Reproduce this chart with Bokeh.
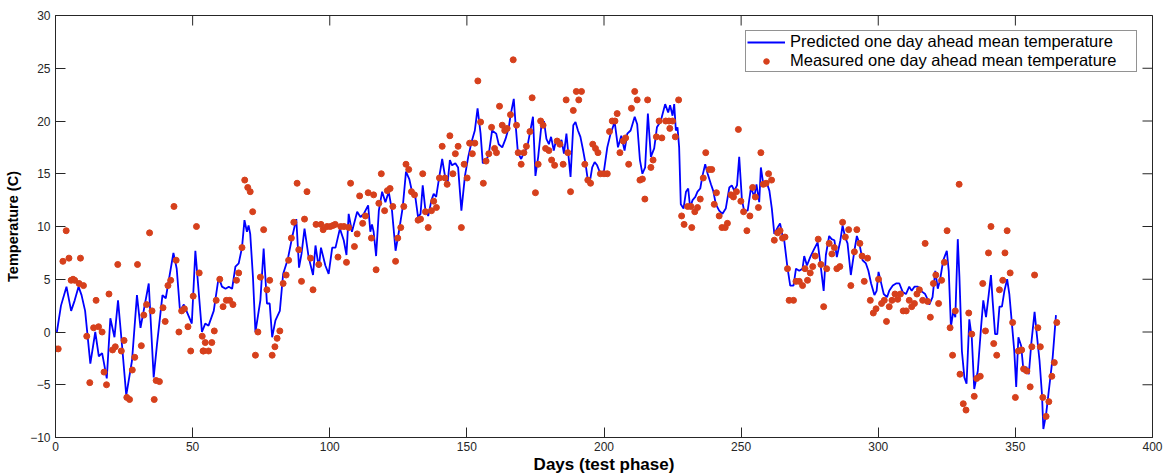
import math
from bokeh.plotting import figure
from bokeh.models import Range1d, FixedTicker, Legend, LegendItem
from bokeh.embed import file_html
from bokeh.resources import INLINE

# Predicted one day ahead mean temperature (line vertices: day, value)
pred_days = [0.5, 2, 4, 5.7, 7, 8.4, 9.5, 10.8, 12.7, 14.5, 15.8, 17, 18.7, 20, 21.5, 22.8, 24.3, 25.8, 27.9, 29.7,
             31, 32.5, 34, 35.8, 37, 39, 40.2, 43, 44.2, 45.4, 46.8, 49.7, 51, 53.4,
             54.6, 55.8, 57.7, 59.5, 60.7, 62, 63.2, 64.4, 65.6, 66.8, 68, 68.9, 69.8, 70.4, 71, 72, 72.9, 74.7,
             75.9, 77.1, 78.1, 79, 80.2, 81.8, 83, 84.7, 86.3, 87.8, 88.8, 89.7, 90.8, 92.3, 93.9, 94.8, 96,
             96.8, 98.4, 99.6, 100.9, 102.1, 103.7, 105.1, 106.1,
             106.9, 108.1, 110, 111.2, 112.4, 114, 114.8, 115.4, 116, 116.9, 117.9, 119.1, 120.3, 121.5, 122.7,
             124, 125.2, 126.6, 127.8, 129, 130, 131.2, 132.2, 133.1, 133.9, 134.9, 135.9, 137.1, 137.9, 138.8,
             139.8, 141, 142.2, 142.9, 143.8, 144.6, 145.8, 146.8, 148, 149.3, 150.5, 151.7, 152.9, 153.9, 155,
             155.8, 157, 158, 159.2,
             160.7, 161.6, 162.9, 164.1, 165.3, 165.9, 167.1, 167.7, 168.6, 169.8, 170.8, 172, 173, 174.1, 175,
             176, 177.1, 178.1, 179, 179.9, 180.7, 181.7, 182.6, 183.5, 184.5, 185.4, 186.3, 187.2, 187.8, 188.8,
             189.6, 190.5, 191.4, 192.4, 193.3, 194.1, 195, 195.7, 196.6, 197.5, 198.7, 200, 201.2, 202.4, 203.9,
             205.1, 206.3, 207.5, 208.5, 209.7, 211.2, 212.1,
             213.1, 214, 215, 216, 217.1, 218.3, 219.3, 220.7, 222.3, 223.4, 224.1, 225, 225.6, 226.2, 226.8,
             227.4, 228, 229, 229.9, 230.7, 231.4, 232.3, 233.3, 234.1, 235.1, 235.9, 236.9, 237.8, 239, 239.8,
             240.8, 242, 243.2, 244.4, 245.7, 246.6, 247.5, 248.5, 249.3, 250.3, 251.1, 252.4, 253.6, 254.8,
             255.6, 256.6, 257.2, 258.1, 259.3, 260.3, 261.2, 262.1, 263.3, 264.2, 265.1,
             265.7, 266.9, 267.9, 269.1, 270, 271.2, 272.4, 273, 274, 275.2, 276.7, 277.9, 278.9, 280.1, 280.9,
             282.1, 283, 284, 284.9, 286.2, 287, 287.9, 288.8, 290, 291.3, 292.2, 293.1, 294.3, 295.5, 296.4,
             297.4, 298.6, 299.4, 300.1, 301, 302, 303.2, 304, 305.3, 306.5, 307.7, 308.9, 310.1, 311.3, 312.2,
             313.2, 314.4, 315.6, 317.1, 318,
             318.6, 319.8, 320.8, 321.7, 322.5, 323.7, 325, 325.7, 326.5, 327.4, 328.1, 329, 329.6, 330.5, 331.4,
             332.2, 333.2, 334.1, 335, 336.3, 337.5, 338.3, 339.3, 340.3, 341.1, 341.7, 342.6, 343.4, 344.2,
             345.1, 346, 347, 347.8, 348.8, 349.6, 350.3, 351.1, 352.1, 353, 354, 354.9, 355.8, 357, 357.8,
             358.8, 359.7, 360.2, 361.2, 362.4, 363.6, 364.8]
pred_vals = [0.0, 2.5, 4.3, 2.0, 3.0, 4.3, 3.5, 2.0, -3.0, 0.0, -2.3, -2.0, -4.4, 1.3, -0.5, 3.0, -1.4, -6.0, -2.7, 3.5,
             0.4, 2.5, 4.6, -4.3, -1.2, 3.5, 3.2, 7.5, 6.0, 2.0, 2.6, 0.8, 7.7, 0.0,
             0.8, 0.6, 2.0, 5.2, 4.3, 4.1, 4.3, 4.1, 6.2, 6.5, 8.0, 10.6, 9.5, 10.1, 9.3, 5.2, 0.0, 3.0,
             7.9, 2.7, 2.7, -0.5, 1.1, 2.0, 5.5, 6.9, 9.0, 10.7, 6.1, 7.4, 9.8, 7.1, 5.4, 8.2, 6.1,
             8.0, 6.3, 5.5, 8.0, 8.0, 9.8, 8.7, 7.3,
             11.2, 9.5, 11.4, 10.9, 11.2, 12.0, 9.5, 10.2, 9.5, 7.2, 11.5, 13.3, 12.3, 13.3, 11.5,
             7.7, 9.5, 11.8, 15.2, 14.5, 13.3, 12.8, 10.9, 11.2, 13.9, 11.5, 11.0, 12.5, 13.1, 12.8,
             14.5, 16.4, 14.5, 13.9, 16.3, 15.8, 16.0, 15.6, 11.5, 14.8, 16.6, 18.0, 19.1, 21.2, 18.8,
             16.0, 16.2, 16.9, 19.1,
             18.8, 17.8, 17.5, 18.3, 19.4, 20.5, 22.1, 19.9, 17.0, 16.4, 17.0, 17.5, 18.9, 20.4, 14.8,
             16.6, 19.4, 20.0, 18.3, 17.8, 18.5, 17.2, 18.3, 17.7, 18.2, 16.9, 18.8, 16.3, 14.7, 19.6,
             19.9, 19.1, 18.5, 17.2, 15.9, 14.4, 14.5, 15.6, 16.1, 15.8, 15.0, 15.3, 17.5, 18.8, 19.9,
             17.5, 18.6, 17.2, 18.8, 19.1, 20.4, 19.7,
             16.3, 15.0, 15.6, 20.7, 16.6, 17.4, 19.4, 20.0, 21.6, 20.8, 21.5, 20.5, 21.6, 19.1, 19.4,
             17.5, 12.1, 11.7, 13.3, 13.6, 11.8, 12.5, 12.8, 13.3, 13.6, 14.8, 15.9, 15.0, 14.0, 13.4,
             12.1, 11.5, 11.2, 11.7, 13.7, 13.9, 13.4, 13.9, 16.6, 12.5, 11.5, 11.5, 13.7, 12.8,
             14.0, 12.3, 15.6, 14.0, 14.2, 13.4, 11.7, 9.3, 9.9, 10.3, 9.1,
             8.7, 6.1, 4.4, 4.4, 6.0, 5.8, 6.0, 7.2, 6.3, 7.1, 7.9, 8.5, 6.5, 3.9, 7.3,
             9.1, 8.8, 8.7, 7.1, 8.7, 10.1, 9.0, 8.4, 5.4, 7.7, 9.1, 8.4, 6.8, 6.5, 5.8,
             4.6, 3.5, 3.9, 5.7, 4.7, 3.6, 3.3, 3.9, 4.4, 4.6, 4.6, 3.8, 3.6, 4.3, 3.9,
             4.3, 4.3, 3.9, 3.6, 3.1,
             2.6, 3.3, 5.8, 4.1, 4.9, 6.8, 7.7, 5.8, 0.5, 2.0, 1.4, 8.8, 5.2, -1.8, -4.3,
             -4.9, 1.2, -0.5, -5.4, -3.7, 0.5, 3.0, 1.4, 3.6, 5.4, 3.0, -0.2, -0.2, 2.4,
             2.4, 3.9, 5.0, 3.6, 0.6, -1.8, -5.2, -0.5, -1.3, -3.8, -3.3, -4.0, -1.1, 1.9, -0.2,
             -2.7, -5.9, -9.2, -7.8, -5.1, -2.4, 1.6]

# Measured one day ahead mean temperature (day, value)
meas_days = [0, 1, 2.7, 3.9, 4.9, 5.7, 6.4, 7, 8.6, 9.1, 10.2, 11.4, 12.5, 13.9, 14.8, 15.7, 17, 17.7, 18.6, 19.5,
             20.8, 21.8, 22.7, 24, 25, 26, 27, 28, 28.9, 29.9, 31.3, 32.2, 33.2, 34.3, 35.2, 36, 36.7, 37.9, 39.2,
             40, 41, 42, 43.2, 44, 45, 46, 47, 48.3, 49.3, 50.2, 51.4, 52.4, 53.5, 54,
             53.8, 54.6, 55.8, 57, 57.9, 58.6, 59.9, 61.1, 62.3, 63.5, 64.7, 66, 66.8, 68, 69, 70.1, 71, 71.9,
             72.9, 73.8, 74.7, 75.9, 77.1, 78.1, 79, 80, 80.8, 81.8, 83, 84.1, 85, 86, 86.9, 88.1, 88.7, 89.7,
             90.8, 91.7, 93, 93.9, 95, 96, 96.8, 97.6, 99, 100.2, 101.2, 102, 103, 104, 105.2, 106.1, 106.9, 107.6,
             109, 110, 110.9, 112, 113, 114, 115.2, 116, 116.9, 117.9, 118.8, 120, 121, 122, 123, 124, 124.8,
             125.9, 127, 127.8, 128.8, 129.8, 130.9, 132.2, 133.1, 133.9, 134.9, 135.9, 137.1, 137.9, 138.9,
             140, 141, 142, 142.8, 143.8, 144.9, 145.8, 146.8, 148, 149, 150.1, 151, 152, 152.9, 154, 155,
             156, 157, 158, 159, 160.1,
             160.8, 161.9, 162.9, 163.8, 164.7, 165.9, 166.9, 168.1, 168.7, 169.8, 170.8, 171.7, 173, 173.8,
             175, 176, 176.9, 177.8, 178.7, 179.9, 180.9, 182, 182.9, 183.9, 185.1, 186.2, 186.8, 187.8, 188.8,
             189.9, 190.8, 191.8, 193, 194.1, 195.1, 195.9, 196.9, 197.8, 198.7, 200, 201.2, 202, 203, 204,
             204.8, 205.8, 207, 207.9, 209, 210, 211.2, 212.1, 213.1,
             214, 214.9, 215.9, 217.1, 217.9, 219.1, 220.1, 221.1, 222.5, 223.7, 224, 225, 226, 227.2, 228.3,
             229.2, 230.5, 231.7, 232, 233.1, 234.1, 235.1, 236.2, 237.1, 238.4, 239.3, 240.2, 241, 242, 243,
             244.2, 245, 246.3, 247.2, 248.3, 249, 249.9, 250.9, 252.1, 253.2, 254.2, 255.2, 256.3, 257.2,
             258.1, 259.1, 260, 261.1, 262.1, 263.3, 264.2, 265.1,
             266, 266.9, 267.5, 269.1, 270, 271.2, 272.4, 273.3, 274.2, 275.2, 276.1, 277, 278.1, 279.1, 280.1,
             281.2, 282.1, 283.1, 284, 284.9, 286, 287, 288, 289.2, 290, 291.3, 292.2, 293.3, 294.1, 294.9,
             296.1, 297.1, 298.2, 299.2, 300.1, 301.2, 302.2, 303, 304, 305, 306.1, 307.1, 308.1, 309.1, 310.2,
             311.3, 312.2, 313.2, 314.1, 315, 316.2, 317.1, 318, 319,
             320.1, 321, 322, 323.1, 324.1, 325.1, 326.2, 327.1, 328.1, 329.5, 329.8, 331, 332, 333, 334.1, 335,
             335.9, 337.2, 338.1, 339.1, 340.2, 341.1, 342.1, 343.2, 344.2, 345.4, 346.2, 347, 348.1, 349, 350,
             351.1, 352.3, 353, 354.2, 355.4, 356, 357, 358.2, 359.1, 360, 361.2, 362.2, 363.3, 364.2, 365.1]
meas_vals = [-1.6, -1.6, 6.7, 9.6, 7.0, 4.9, 5.0, 4.9, 4.6, 7.0, 4.4, -0.4, -4.8, 0.4, 3.0, 0.5, 0.0, -3.8, -5.0, 3.6,
             -1.7, -1.4, 6.4, -1.8, -0.8, -6.2, -6.4, -3.6, -2.4, 6.4, -1.3, 1.6, 2.6, 9.4, 2.0, -6.4, -4.6, -4.7, 2.3,
             1.0, 4.4, 4.9, 11.9, 6.8, 0.0, 2.0, 2.2, 0.5, -1.8, 3.4, 10.0, 5.6, -0.4, -1.8,
             -1.8, -1.0, -1.8, -1.0, 0.1, 3.0, 5.0, 2.4, 3.0, 3.0, 2.6, 4.9, 5.6, 8.0, 14.4, 13.7, 13.3, 11.4,
             -2.2, 0.0, 5.2, 9.7, 4.0, 4.9, -2.2, -1.4, -0.6, 0.1, 4.6, 5.4, 6.8, 8.9, 10.4, 14.1, 7.8, 4.8,
             10.7, 13.3, 7.0, 4.0, 10.2, 6.4, 10.2, 9.7, 10.0, 10.0, 10.1, 10.2, 7.1, 10.0, 10.0, 6.6, 9.9, 14.1,
             8.1, 9.3, 12.9, 10.3, 11.0, 13.2, 8.9, 13.0, 5.9, 12.2, 15.0, 11.5, 13.4, 13.6, 11.9, 6.7, 8.9,
             9.9, 11.9, 15.9, 15.4, 13.3, 13.0, 10.6, 10.7, 15.0, 11.4, 9.9, 11.5, 12.4, 11.8,
             14.6, 17.6, 14.6, 14.0, 18.6, 15.0, 16.9, 17.6, 9.9, 15.9, 14.6, 17.9, 16.9, 17.9, 23.8, 19.9,
             14.1, 16.2, 16.9, 19.4, 17.4,
             17.0, 21.4, 19.6, 19.1, 19.3, 20.6, 25.8, 19.6, 17.0, 15.9, 17.0, 17.6, 19.0, 22.2,
             13.2, 15.9, 20.0, 19.6, 17.4, 17.2, 16.3, 15.8, 18.1, 17.8, 15.9, 22.0, 17.0, 13.3, 21.0,
             22.8, 22.0, 22.8, 15.9, 14.4, 14.1, 17.8, 17.4, 17.0, 15.0, 15.0, 15.0, 19.0, 20.0, 20.0,
             20.7, 17.0, 18.1, 18.4, 15.9, 21.2, 22.8, 22.0, 14.4,
             14.5, 12.6, 22.0, 15.6, 16.3, 18.5, 20.0, 18.4, 20.0, 20.0, 19.3, 20.0, 18.5, 22.0, 11.0,
             10.2, 11.9, 11.9, 9.9, 11.4, 11.8, 12.6, 14.6, 17.0, 15.4, 15.4, 12.1, 13.2, 11.0, 9.9,
             9.9, 10.3, 13.0, 12.8, 13.3, 19.2, 12.4, 11.4, 9.6, 11.0, 13.7, 12.8, 11.8, 17.0,
             14.0, 14.1, 15.0, 14.4, 8.7, 9.4, 9.6, 8.9,
             9.0, 6.0, 3.0, 3.0, 4.8, 4.8, 4.4, 6.0, 4.9, 5.6, 6.2, 7.2, 8.8, 6.4, 2.4,
             6.0, 8.4, 7.4, 8.0, 6.0, 6.2, 10.4, 9.0, 9.7, 4.4, 7.6, 9.7, 8.4, 7.2, 4.8,
             7.0, 3.0, 1.8, 2.2, 5.0, 2.7, 3.0, 1.0, 2.4, 3.0, 3.6, 3.1, 3.6, 2.0, 2.0,
             3.0, 2.4, 2.7, 3.6, 4.0, 3.0, 8.4, 2.9, 1.4,
             4.6, 5.4, 2.7, 4.9, 6.6, 9.6, 0.4, -2.2, 2.0, 14.0, -4.0, -6.8, -7.4, 1.8, -0.2, -6.1,
             -4.4, -4.2, 4.6, 0.1, 7.5, 10.0, -1.1, -2.2, 4.0, 4.9, 7.5, 9.6, 5.6, 0.9, -6.2,
             -1.8, -1.7, -3.5, -3.7, -5.2, -1.4, 5.4, 0.4, -1.4, -6.2, -8.0, -6.6, -4.2, -2.9, 0.9]

x_ticks = [0, 50, 100, 150, 200, 250, 300, 350, 400]
y_ticks = [-10, -5, 0, 5, 10, 15, 20, 25, 30]
X_MIN, X_MAX = 0, 400
Y_MIN, Y_MAX = -10, 30

FONT = "Liberation Sans"
AXC = "#262626"
TICK_LEN = 10

p = figure(width=1167, height=476, x_range=Range1d(X_MIN, X_MAX), y_range=Range1d(Y_MIN, Y_MAX),
           output_backend="svg", toolbar_location=None,
           min_border_left=55, min_border_right=15, min_border_top=15, min_border_bottom=39)
p.xgrid.visible = False
p.ygrid.visible = False
p.outline_line_color = AXC
p.outline_line_width = 1
p.background_fill_color = "white"
p.border_fill_color = "white"

line_r = p.line(pred_days, pred_vals, line_color="#0000FF", line_width=1.8)
dot_r = p.scatter(meas_days, meas_vals, size=6, fill_color="#D6401C", line_color="#D6401C")

# mirrored inner ticks on the top and right frame edges (clipped to the frame -> half shows)
p.scatter(x_ticks, [Y_MAX] * len(x_ticks), marker="dash", size=2 * TICK_LEN, angle=math.pi / 2,
          line_color=AXC, line_width=1)
p.scatter([X_MAX] * len(y_ticks), y_ticks, marker="dash", size=2 * TICK_LEN,
          line_color=AXC, line_width=1)

def style_axis(ax, ticks):
    ax.ticker = FixedTicker(ticks=ticks)
    ax.major_tick_in = TICK_LEN
    ax.major_tick_out = 0
    ax.minor_tick_in = 0
    ax.minor_tick_out = 0
    ax.axis_line_color = AXC
    ax.major_tick_line_color = AXC
    ax.major_label_text_font = FONT
    ax.major_label_text_color = AXC
    ax.major_label_text_font_size = "12px"

style_axis(p.xaxis[0], x_ticks)
style_axis(p.yaxis[0], y_ticks)
p.xaxis[0].major_label_standoff = 4
p.xaxis[0].axis_label = "Days (test phase)"
p.xaxis[0].axis_label_text_font = FONT
p.xaxis[0].axis_label_text_font_size = "17px"
p.xaxis[0].axis_label_text_font_style = "bold"
p.xaxis[0].axis_label_text_color = "black"
p.xaxis[0].axis_label_standoff = 1
p.yaxis[0].major_label_standoff = 5
p.yaxis[0].axis_label = "Temperature (C)"
p.yaxis[0].axis_label_text_font = FONT
p.yaxis[0].axis_label_text_font_size = "14.5px"
p.yaxis[0].axis_label_text_font_style = "bold"
p.yaxis[0].axis_label_text_color = "black"
p.yaxis[0].axis_label_standoff = 6

legend = Legend(items=[LegendItem(label="Predicted one day ahead mean temperature", renderers=[line_r]),
                       LegendItem(label="Measured one day ahead mean temperature", renderers=[dot_r])],
                location="top_right")
legend.label_text_font = FONT
legend.label_text_font_size = "16.5px"
legend.label_text_color = "black"
legend.label_height = 14
legend.glyph_height = 14
legend.glyph_width = 38
legend.label_standoff = 5
legend.label_width = 345
legend.spacing = 0
legend.padding = 1
legend.margin = 15
legend.border_line_color = "#262626"
legend.border_line_width = 1
legend.background_fill_color = "white"
legend.background_fill_alpha = 1.0
p.add_layout(legend)

open("out.html", "w").write(file_html(p, INLINE))
